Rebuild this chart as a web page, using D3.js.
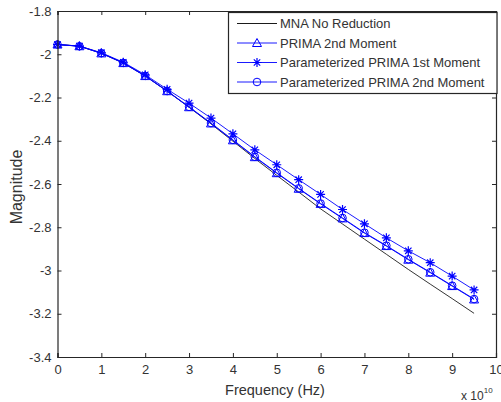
<!DOCTYPE html>
<html>
<head>
<meta charset="utf-8">
<script src="https://cdn.jsdelivr.net/npm/d3@7"></script>
<style>
  body { margin: 0; background: #fff; }
  svg { display: block; font-family: "Liberation Sans", Arial, sans-serif; }
</style>
</head>
<body>
<div id="chart"></div>
<script>
// frequency in units of 1e10 Hz
const freq = [0, 0.5, 1, 1.5, 2, 2.5, 3, 3.5, 4, 4.5, 5, 5.5, 6, 6.5, 7, 7.5, 8, 8.5, 9, 9.5];

const mnaNoReduction = [-1.955, -1.962, -1.995, -2.040, -2.100, -2.170, -2.245, -2.322, -2.402, -2.482,
  -2.560, -2.637, -2.715, -2.785, -2.855, -2.925, -2.995, -3.063, -3.130, -3.198];
const prima2nd = [-1.955, -1.963, -1.996, -2.041, -2.101, -2.171, -2.245, -2.320, -2.398, -2.476,
  -2.550, -2.622, -2.692, -2.759, -2.827, -2.887, -2.950, -3.010, -3.072, -3.134];
const paramPrima1st = [-1.955, -1.962, -1.993, -2.037, -2.095, -2.162, -2.226, -2.295, -2.368, -2.442,
  -2.511, -2.580, -2.648, -2.718, -2.784, -2.849, -2.909, -2.964, -3.026, -3.090];
const paramPrima2nd = [-1.955, -1.963, -1.995, -2.040, -2.100, -2.170, -2.243, -2.318, -2.396, -2.474,
  -2.548, -2.620, -2.690, -2.757, -2.825, -2.885, -2.948, -3.008, -3.070, -3.132];

const xTicks = [0, 1, 2, 3, 4, 5, 6, 7, 8, 9, 10];
const yTicks = [-3.4, -3.2, -3, -2.8, -2.6, -2.4, -2.2, -2, -1.8];

const legendLabels = ['MNA No Reduction', 'PRIMA 2nd Moment', 'Parameterized PRIMA 1st Moment', 'Parameterized PRIMA 2nd Moment'];

const totalWidth = 501
const totalHeight = 402
const leftMargin = 57.5
const topMargin = 11
const plotWidth = 438.5
const plotHeight = 346

const blue = '#0000ff'
const axisColor = '#262626'
const textColor = '#333'

const svg = d3.select('#chart')
  .append('svg')
  .attr('width', totalWidth)
  .attr('height', totalHeight);

const g = svg.append('g')
  .attr('transform', `translate(${leftMargin},${topMargin})`);

const xScale = d3.scaleLinear().domain([0, 10]).range([0, plotWidth]);
const yScale = d3.scaleLinear().domain([-3.4, -1.8]).range([plotHeight, 0]);

// series
const series = [
  { values: mnaNoReduction, color: '#000', marker: null },
  { values: prima2nd, color: blue, marker: 'triangle' },
  { values: paramPrima1st, color: blue, marker: 'star' },
  { values: paramPrima2nd, color: blue, marker: 'circle' }
];

const line = d3.line()
  .x(d => xScale(d[0]))
  .y(d => yScale(d[1]));

function drawMarker(sel, type, color) {
  if (type === 'triangle') {
    sel.append('path')
      .attr('d', 'M0,-4.5L4.5,3.5L-4.5,3.5Z')
      .attr('fill', 'none')
      .attr('stroke', color)
      .attr('stroke-width', 1);
  } else if (type === 'circle') {
    sel.append('circle')
      .attr('r', 3.8)
      .attr('fill', 'none')
      .attr('stroke', color)
      .attr('stroke-width', 1);
  } else if (type === 'star') {
    sel.append('path')
      .attr('d', 'M-4.5,0L4.5,0M0,-4.5L0,4.5M-3.2,-3.2L3.2,3.2M-3.2,3.2L3.2,-3.2')
      .attr('stroke', color)
      .attr('stroke-width', 1.2);
  }
}

series.forEach(s => {
  const pts = freq.map((f, i) => [f, s.values[i]]);
  g.append('path')
    .datum(pts)
    .attr('d', line)
    .attr('fill', 'none')
    .attr('stroke', s.color)
    .attr('stroke-width', s.marker ? 0.9 : 0.8);
  if (s.marker) {
    g.selectAll(null)
      .data(pts)
      .enter()
      .append('g')
      .attr('transform', d => `translate(${xScale(d[0])},${yScale(d[1])})`)
      .each(function () { drawMarker(d3.select(this), s.marker, s.color); });
  }
});

// axes with box, MATLAB style
const xAxis = g.append('g')
  .attr('transform', `translate(0,${plotHeight})`)
  .call(d3.axisBottom(xScale).tickValues(xTicks).tickSize(-4).tickPadding(8).tickFormat(d3.format('d')));
const xTop = g.append('g')
  .call(d3.axisTop(xScale).tickValues(xTicks).tickSize(-4).tickFormat(''));
const yAxis = g.append('g')
  .call(d3.axisLeft(yScale).tickValues(yTicks).tickSize(-4).tickPadding(6).tickFormat(d => d3.format('~g')(d).replace('−', '-')));
const yRight = g.append('g')
  .attr('transform', `translate(${plotWidth},0)`)
  .call(d3.axisRight(yScale).tickValues(yTicks).tickSize(-4).tickFormat(''));

[xAxis, xTop, yAxis, yRight].forEach(a => {
  a.select('.domain').attr('stroke', axisColor).attr('stroke-width', 1.2);
  a.selectAll('.tick line').attr('stroke', axisColor);
  a.selectAll('.tick text')
    .attr('fill', textColor)
    .style('font-size', '13px')
    .style('font-family', '"Liberation Sans", Arial, sans-serif');
});

// axis labels
svg.append('text')
  .attr('x', 275)
  .attr('y', 395)
  .attr('text-anchor', 'middle')
  .attr('fill', textColor)
  .style('font-size', '14.5px')
  .text('Frequency (Hz)');

svg.append('text')
  .attr('transform', 'rotate(-90)')
  .attr('x', -187)
  .attr('y', 22)
  .attr('text-anchor', 'middle')
  .attr('fill', textColor)
  .style('font-size', '16px')
  .text('Magnitude');

const expo = svg.append('text')
  .attr('x', 461)
  .attr('y', 400)
  .attr('fill', textColor)
  .style('font-size', '12px');
expo.append('tspan').text('x 10');
expo.append('tspan').attr('dy', -7).style('font-size', '8px').text('10');

// legend
const legend = svg.append('g');
legend.append('rect')
  .attr('x', 228.5)
  .attr('y', 12.5)
  .attr('width', 268.5)
  .attr('height', 81)
  .attr('fill', '#fff')
  .attr('stroke', axisColor)
  .attr('stroke-width', 1.2);

legendLabels.forEach((label, i) => {
  const y = 23.5 + i * 19.5;
  const s = series[i];
  legend.append('line')
    .attr('x1', 237).attr('x2', 277)
    .attr('y1', y).attr('y2', y)
    .attr('stroke', s.color)
    .attr('stroke-width', 0.9);
  if (s.marker) {
    const m = legend.append('g').attr('transform', `translate(257,${y})`);
    drawMarker(m, s.marker, s.color);
  }
  legend.append('text')
    .attr('x', 280)
    .attr('y', y + 4.5)
    .attr('fill', textColor)
    .style('font-size', '13px')
    .text(label);
});
</script>
</body>
</html>
